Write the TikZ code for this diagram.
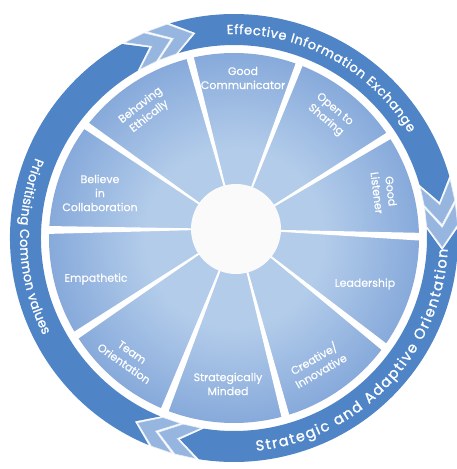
\documentclass[tikz,border=0pt]{standalone}
\usepackage{fontspec}
\newfontfamily\labelfont[FakeBold=0.4]{Poppins}
\newfontfamily\bandfont[FakeBold=1.2]{Poppins}
\usetikzlibrary{decorations.text,calc}
\definecolor{bandblue}{HTML}{4F85C7}
\definecolor{segin}{HTML}{B3CCEA}
\definecolor{segmid}{HTML}{87AADB}
\definecolor{segmid2}{HTML}{6592CE}
\definecolor{segout}{HTML}{5285C7}
\definecolor{chev}{HTML}{8CAEDC}
\pgfdeclareradialshading{segshade}{\pgfpoint{0bp}{0bp}}{color(0bp)=(segin); color(12bp)=(segin); color(25bp)=(segmid); color(40bp)=(segmid2); color(50bp)=(segout)}
\tikzset{
  lab/.style={text=white, align=center, font=\labelfont\fontsize{11}{14}\selectfont, inner sep=0pt},
  band/.style={fill=bandblue},
  chevron/.style={fill=chev, fill opacity=0.9, draw=white!80!chev, line width=0.6pt},
  gapwedge/.style={fill=white},
}
\newcommand\bandarc[2]{\fill[band] (#1:224) arc[start angle=#1, end angle=#2, radius=224] -- ({#2-6}:208.5) -- (#2:193) arc[start angle=#2, end angle=#1, radius=193] -- ({#1-6}:208.5) -- cycle;}
\newcommand\chevpiece[1]{\fill[chevron] (#1:224) -- ({#1-6}:208.5) -- (#1:193) -- ({#1-5.5}:193) -- ({#1-11.5}:208.5) -- ({#1-5.5}:224) -- cycle;}
\begin{document}
\begin{tikzpicture}[x=1pt,y=1pt]
\useasboundingbox (0,0) rectangle (457,469);
\coordinate (S) at (234,231);
\coordinate (H) at (236,240);
% segments
\shade[shading=segshade] (S) circle[radius=185];
\foreach \a in {105,69,31.4,-2.4,-38.5,-75.2,-111.5,-146.4,180.3,145.4}{
  \fill[gapwedge] (H) -- ($(H)+(\a+1.2:200)$) -- ($(H)+(\a-1.2:200)$) -- cycle;
}
\fill[white!98!black] (H) circle[radius=45];
% band
\begin{scope}[shift={(234,231)}]
  \bandarc{106.6}{16}
  \bandarc{2.6}{-99}
  \bandarc{247.6}{120}
  \chevpiece{119.2}
  \chevpiece{112.9}
  \chevpiece{15.2}
  \chevpiece{8.9}
  \chevpiece{-99.8}
  \chevpiece{-106.1}
  \path[decorate, decoration={text along path, text align=fit to path,
    text={|\bandfont\fontsize{13}{13}\selectfont\color{white}|Effective Information Exchange}}]
    (92:204) arc[start angle=92, end angle=31, radius=204];
  \path[decorate, decoration={text along path, text align=fit to path,
    text={|\bandfont\fontsize{14.5}{14.5}\selectfont\color{white}|Strategic and Adaptive Orientation}}]
    (-84:214) arc[start angle=-84, end angle=-3, radius=214];
  \path[decorate, decoration={text along path, text align=fit to path,
    text={|\bandfont\fontsize{13}{13}\selectfont\color{white}|Prioritising Common values}}]
    (158:214) arc[start angle=158, end angle=207, radius=214];
\end{scope}
% labels
\node[lab] (l1) at (243,391) {Good\\Communicator};
\node[lab, rotate=-40] (l2) at (330,354) {Open to\\Sharing};
\node[lab, rotate=-83] (l3) at (384,277) {Good\\Listener};
\node[lab] (l4) at (365,185) {Leadership};
\node[lab, rotate=30] (l5) at (317,105) {Creative/\\Innovative};
\node[lab] (l6) at (228,85) {Strategically\\Minded};
\node[lab, rotate=-35] (l7) at (128,111) {Team\\Orientation};
\node[lab] (l8) at (96,190) {Empathetic};
\node[lab] (l9) at (100,276) {Believe\\in\\Collaboration};
\node[lab, rotate=38] (l10) at (145,358) {Behaving\\Ethically};
\end{tikzpicture}
\end{document}
